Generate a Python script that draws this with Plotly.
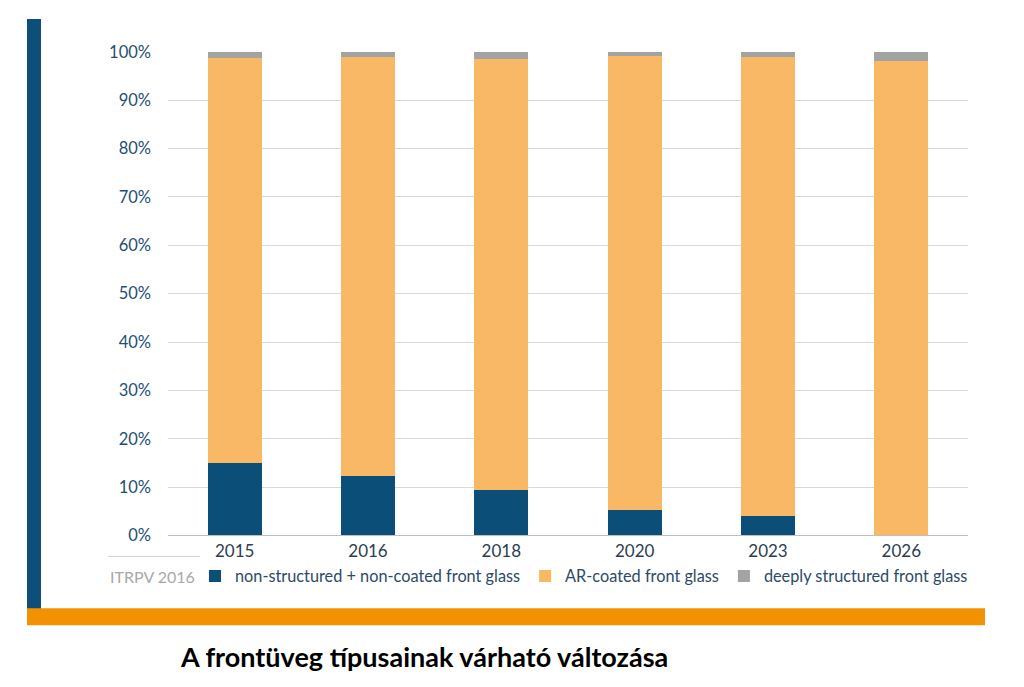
import plotly.graph_objects as go

years = ["2015", "2016", "2018", "2020", "2023", "2026"]
non_structured = [15.0, 12.2, 9.5, 5.2, 4.1, 0.0]
ar_coated = [83.8, 86.8, 89.0, 93.9, 94.9, 98.1]
deeply_structured = [1.2, 1.0, 1.5, 0.9, 1.0, 1.9]
series_names = ["non-structured + non-coated front glass", "AR-coated front glass", "deeply structured front glass"]
colors = ["#0b4f79", "#f8b865", "#a3a3a3"]
y_ticks = [0, 10, 20, 30, 40, 50, 60, 70, 80, 90, 100]

W, H = 1024, 687
def px(x):
    return (x - 8) / W
def py(y):
    return (686 - y) / 669

fig = go.Figure()
for name, vals, c in zip(series_names, [non_structured, ar_coated, deeply_structured], colors):
    fig.add_trace(go.Bar(x=years, y=vals, name=name, marker=dict(color=c, line=dict(width=0))))

fig.update_layout(
    width=W, height=H,
    barmode="stack", bargap=0.595,
    margin=dict(l=0, r=0, t=0, b=0),
    paper_bgcolor="white", plot_bgcolor="white",
    font=dict(family="Lato", size=14, color="#2b3e50"),
    showlegend=True,
    legend=dict(orientation="h", traceorder="normal", x=px(195), y=py(577), xanchor="left", yanchor="middle",
                font=dict(family="Lato", size=16.3, color="#2c4a66"),
                itemwidth=30, tracegroupgap=0, bgcolor="rgba(0,0,0,0)"),
    xaxis=dict(domain=[px(168), px(968)], showgrid=False, showline=True, linecolor="#bfbfbf",
               linewidth=1, ticks="", tickfont=dict(family="Lato", size=17, color="#2b3e50")),
    yaxis=dict(domain=[py(536), py(51)], range=[0, 100], tickvals=y_ticks,
               ticktext=[f"{v}%" for v in y_ticks], showgrid=True, gridcolor="#d9d9d9",
               gridwidth=1, zeroline=False, ticks="", ticklabelstandoff=16,
               tickfont=dict(family="Lato", size=16.5, color="#1f4f73")),
    shapes=[
        dict(type="rect", xref="paper", yref="paper", x0=px(27), x1=px(41), y0=py(610), y1=py(18),
             fillcolor="#0d4f78", line=dict(width=0), layer="above"),
        dict(type="rect", xref="paper", yref="paper", x0=px(27), x1=px(985), y0=py(626), y1=py(609),
             fillcolor="#f39200", line=dict(width=0), layer="above"),
        dict(type="line", xref="paper", yref="paper", x0=px(108), x1=px(200), y0=py(557), y1=py(557),
             line=dict(color="#d0d0d0", width=1)),
    ],
    annotations=[
        dict(text="ITRPV 2016", xref="paper", yref="paper", x=px(108), y=py(577), xanchor="left",
             yanchor="middle", showarrow=False, font=dict(family="Lato", size=16, color="#a8a8a8")),
        dict(text="<b>A frontüveg típusainak várható változása</b>", xref="paper", yref="paper",
             x=px(424), y=py(657), xanchor="center", yanchor="middle", showarrow=False,
             font=dict(family="Lato", size=27, color="#000000")),
    ],
)

fig.write_html("out.html")
